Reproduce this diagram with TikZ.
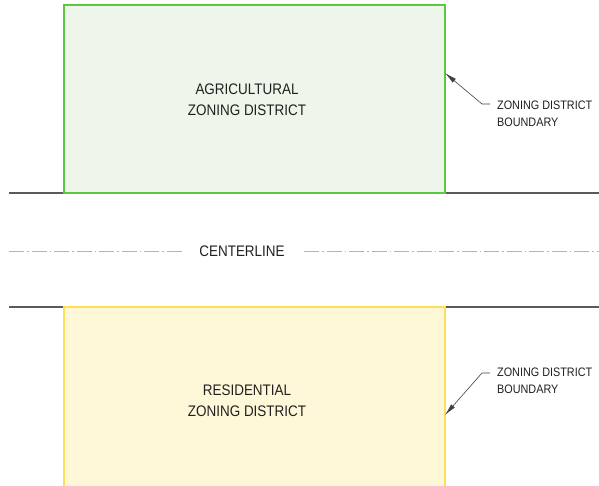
\documentclass[tikz,border=0pt]{standalone}
\usepackage{fontspec}
\setmainfont{Liberation Sans}
\newfontfamily\narrowsans[FakeStretch=0.88]{Liberation Sans}
\usepackage{tikz}
\usetikzlibrary{arrows.meta}

\definecolor{agfill}{HTML}{EEF5EA}
\definecolor{agline}{HTML}{5CC840}
\definecolor{resfill}{HTML}{FFF8D8}
\definecolor{resline}{HTML}{FFDF55}
\definecolor{roadline}{HTML}{5A5A5A}
\definecolor{cline}{HTML}{B4B4B4}
\definecolor{labeltext}{HTML}{202020}

\tikzset{
  zonelabel/.style={text=labeltext,align=center,font=\narrowsans\fontsize{15.3}{21}\selectfont},
  sidelabel/.style={text=labeltext,align=left,anchor=west,inner sep=0pt,font=\narrowsans\fontsize{12.3}{16.5}\selectfont},
  leader/.style={draw=black!75,line width=0.6pt,-{Latex[length=12pt,width=5pt]}},
}

\begin{document}
\begin{tikzpicture}[x=1pt,y=-1pt]
  \useasboundingbox (0,0) rectangle (599,486);
  % road edges
  \draw[roadline,line width=1.3pt] (9,193) -- (599,193);
  \draw[roadline,line width=1.3pt] (9,307) -- (599,307);
  % agricultural district
  \filldraw[fill=agfill,draw=agline,line width=1.3pt] (64,5) rectangle (445,193);
  \node[zonelabel] (agri) at (247,100) {AGRICULTURAL\\ZONING DISTRICT};
  % residential district (open at the bottom)
  \fill[resfill] (64,307) rectangle (445,486);
  \draw[resline,line width=1.3pt] (64,486) -- (64,307) -- (445,307) -- (445,486);
  \node[zonelabel] (resi) at (247,400.5) {RESIDENTIAL\\ZONING DISTRICT};
  % centerline
  \node[zonelabel] (cl) at (242,251.5) {CENTERLINE};
  \draw[cline,line width=0.8pt,dash pattern=on 15pt off 3pt on 1.5pt off 3pt] (9,251) -- (183,251);
  \draw[cline,line width=0.8pt,dash pattern=on 15pt off 3pt on 1.5pt off 3pt] (304,251) -- (599,251);
  % boundary leaders
  \coordinate (tiptop) at (445,73);
  \coordinate (tipbot) at (445,415);
  \node[sidelabel] (bndtop) at (497,114) {ZONING DISTRICT\\BOUNDARY};
  \node[sidelabel] (bndbot) at (497,381) {ZONING DISTRICT\\BOUNDARY};
  \draw[leader] (490,104) -- (482,104) -- (tiptop);
  \draw[leader] (490,373) -- (482,373) -- (tipbot);
\end{tikzpicture}
\end{document}
